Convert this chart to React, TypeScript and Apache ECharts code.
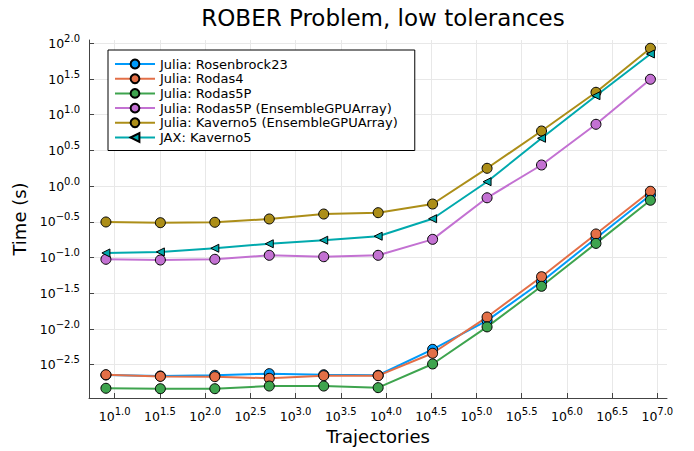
import React, { useEffect, useRef } from "react";
import * as echarts from "echarts";

const trajectories = [8, 32, 128, 512, 2048, 8192, 32768, 131072, 524288, 2097152, 8388608];

const seriesNames = [
  "Julia: Rosenbrock23",
  "Julia: Rodas4",
  "Julia: Rodas5P",
  "Julia: Rodas5P (EnsembleGPUArray)",
  "Julia: Kaverno5 (EnsembleGPUArray)",
  "JAX: Kaverno5",
];

const rosenbrock23 = [0.00227, 0.0022, 0.00225, 0.00237, 0.00229, 0.00225, 0.00519, 0.0131, 0.0459, 0.186, 0.752];
const rodas4 = [0.00229, 0.00217, 0.00215, 0.00204, 0.00222, 0.00222, 0.00457, 0.0147, 0.054, 0.214, 0.847];
const rodas5p = [0.00148, 0.00146, 0.00146, 0.00159, 0.00159, 0.00151, 0.00324, 0.0107, 0.0396, 0.158, 0.634];
const rodas5pGPU = [0.0946, 0.0925, 0.0946, 0.1076, 0.1028, 0.1076, 0.18, 0.687, 1.977, 7.345, 31.33];
const kaverno5GPU = [0.315, 0.308, 0.312, 0.347, 0.407, 0.425, 0.562, 1.778, 5.916, 20.61, 85.1];
const jaxKaverno5 = [0.116, 0.12, 0.135, 0.156, 0.175, 0.199, 0.35, 1.153, 4.677, 18.45, 70.8];

const xTickExponents = [1.0, 1.5, 2.0, 2.5, 3.0, 3.5, 4.0, 4.5, 5.0, 5.5, 6.0, 6.5, 7.0];
const yTickExponents = [-2.5, -2.0, -1.5, -1.0, -0.5, 0.0, 0.5, 1.0, 1.5, 2.0];

const colors = ["#009AFA", "#E36F47", "#3EA44E", "#C371D2", "#AC8E18", "#00A9AD"];

const FONT = "DejaVu Sans";

function fmtExp(v: number) {
  const s = Math.abs(v).toFixed(1);
  return (v < 0 ? "\u2212" : "") + s;
}

export default function App() {
  const ref = useRef<HTMLDivElement>(null);
  useEffect(() => {
    if (!ref.current) return;
    const chart = echarts.init(ref.current, null, { renderer: "svg" });
    const allData = [rosenbrock23, rodas4, rodas5p, rodas5pGPU, kaverno5GPU, jaxKaverno5];
    const series = allData.map((vals, i) => {
      const isJax = i === 5;
      return {
        name: seriesNames[i],
        type: "line",
        data: vals.map((v, j) => [Math.log10(trajectories[j]), Math.log10(v)]),
        symbol: isJax ? "triangle" : "circle",
        symbolRotate: isJax ? 90 : 0,
        symbolSize: isJax ? 8 : 10,
        showAllSymbol: true,
        lineStyle: { color: colors[i], width: 2 },
        itemStyle: { color: colors[i], borderColor: "#000", borderWidth: 1 },
        emphasis: { disabled: true },
      };
    });
    const richLabel = {
      b: { fontSize: 12.5, fontFamily: FONT, color: "#000" },
      s: { fontSize: 10, fontFamily: FONT, color: "#000", padding: [0, 0, 10, 0] },
    };
    chart.setOption({
      animation: false,
      backgroundColor: "#fff",
      title: {
        text: "ROBER Problem, low tolerances",
        left: 378,
        textAlign: "center",
        top: 1,
        textStyle: { fontFamily: FONT, fontSize: 23, fontWeight: "normal", color: "#000" },
      },
      legend: {
        orient: "vertical",
        left: 108,
        top: 50,
        padding: [7, 17, 6, 6],
        itemWidth: 40,
        itemHeight: 11,
        itemGap: 0.7,
        borderColor: "#000",
        borderWidth: 1,
        backgroundColor: "#fff",
        textStyle: { fontFamily: FONT, fontSize: 13, lineHeight: 14, color: "#000" },
        data: seriesNames,
      },
      grid: { left: 89, right: 27, top: 40, bottom: 53 },
      xAxis: {
        type: "value",
        min: 0.716,
        max: 7.107,
        name: "Trajectories",
        nameLocation: "middle",
        nameGap: 29,
        nameTextStyle: { fontFamily: FONT, fontSize: 18, color: "#000" },
        axisLine: { show: true, onZero: false, lineStyle: { color: "#444", width: 1 } },
        axisTick: { show: true, inside: true, length: 5, customValues: xTickExponents, lineStyle: { color: "#444" } },
        axisLabel: {
          customValues: xTickExponents,
          margin: 8,
          formatter: (v: number) => `{b|10}{s|${fmtExp(v)}}`,
          rich: richLabel,
        },
        splitLine: { show: true, lineStyle: { color: "#e8e8e8", width: 1 } },
      },
      yAxis: {
        type: "value",
        min: -2.966,
        max: 2.046,
        name: "Time (s)",
        nameLocation: "middle",
        nameGap: 58,
        nameTextStyle: { fontFamily: FONT, fontSize: 18, color: "#000" },
        axisLine: { show: true, onZero: false, lineStyle: { color: "#444", width: 1 } },
        axisTick: { show: true, inside: true, length: 5, customValues: yTickExponents, lineStyle: { color: "#444" } },
        axisLabel: {
          customValues: yTickExponents,
          margin: 9,
          formatter: (v: number) => `{b|10}{s|${fmtExp(v)}}`,
          rich: richLabel,
        },
        splitLine: { show: true, lineStyle: { color: "#e8e8e8", width: 1 } },
      },
      series,
    });
    return () => chart.dispose();
  }, []);
  return <div ref={ref} style={{ width: 694, height: 451, position: "absolute", left: 0, top: 0 }} />;
}
